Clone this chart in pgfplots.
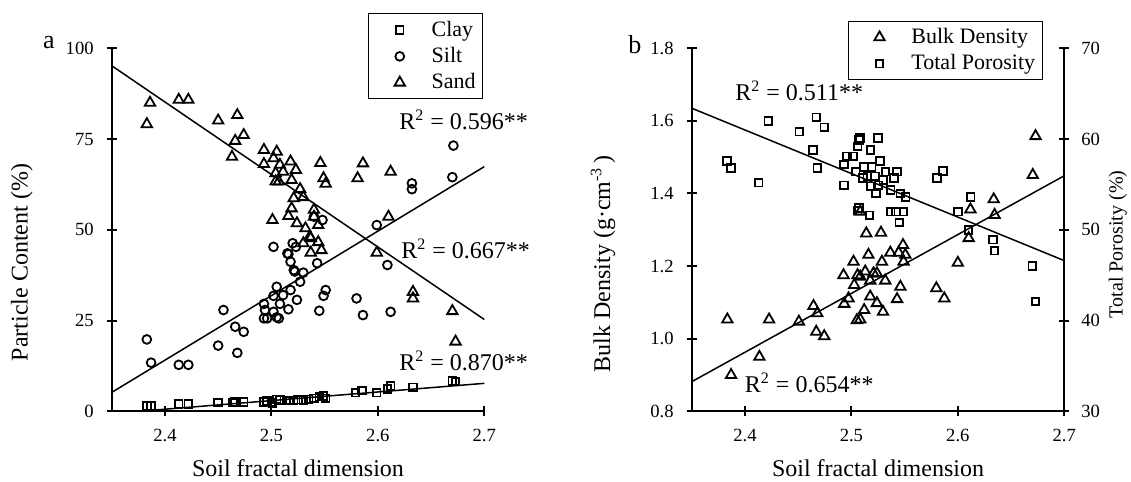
\documentclass[border=0pt]{standalone}
\usepackage{fontspec}
\setmainfont{Liberation Serif}
\usepackage{pgfplots}
\pgfplotsset{compat=1.18}

% 1 px of the reference = 0.5pt
\newcommand{\lf}{\fontsize{11}{13}\selectfont}
\pgfplotsset{
  soil/.style={
    scale only axis, width=186.3pt, height=181.5pt,
    xmin=2.35, xmax=2.7,
    xtick={2.4,2.5,2.6,2.7}, xticklabels={2.4,2.5,2.6,2.7},
    tick align=inside, major tick length=5pt,
    every tick/.style={black, line width=1pt},
    tick label style={font=\fontsize{9.3}{11}\selectfont},
    xticklabel style={yshift=-3pt},
    label style={font=\fontsize{12}{14}\selectfont},
    xlabel={Soil fractal dimension},
    xlabel style={at={(axis description cs:0.5,-0.156)}, anchor=center},
    clip=false,
    legend style={draw=black, line width=0.5pt, fill=white,
      font=\lf, cells={anchor=west}, nodes={inner xsep=1.5pt},
      inner xsep=2pt, inner ysep=1.5pt, row sep=0pt},
    legend image code/.code={\path (0pt,0pt) (27pt,0pt);
      \draw[mark repeat=2,mark phase=2,#1]
      plot coordinates {(0pt,0pt)(13pt,0pt)(26pt,0pt)};},
  },
  noarrows/.style={
    axis line style={-, line width=1pt},
    every outer x axis line/.append style={-},
    every outer y axis line/.append style={-},
    every inner x axis line/.append style={-},
    every inner y axis line/.append style={-},
  },
  pts/.style={only marks, black, line width=0.9pt},
  fit/.style={black, line width=0.75pt, no marks, forget plot},
}

\begin{document}
\begin{tikzpicture}
\path[use as bounding box] (0,0) rectangle (565.5pt,241pt);

% ---------------- panel a ----------------
\begin{axis}[soil,
  at={(55.85pt,35.35pt)}, anchor=south west,
  axis x line=bottom, axis y line=left, noarrows,
  ymin=0, ymax=100,
  ytick={0,25,50,75,100}, yticklabels={0,25,50,75,100},
  yticklabel style={xshift=-3pt},
  ylabel={Particle Content (\%)},
  ylabel style={at={(axis description cs:-0.241,0.41)}, anchor=center},
  legend style={at={(0.997,1.096)}, anchor=north east},
]
\addplot[pts, mark=square, mark size=1.9pt] coordinates {
(2.383,1.5) (2.387,1.5) (2.413,2.0) (2.422,2.0) (2.450,2.4) (2.464,2.4)
(2.466,2.6) (2.474,2.6) (2.493,2.6) (2.496,2.8) (2.500,2.4) (2.501,2.2)
(2.505,3.3) (2.508,3.1) (2.514,2.9) (2.517,3.0) (2.521,2.9) (2.525,3.2)
(2.530,3.1) (2.535,3.3) (2.540,3.6) (2.545,4.0) (2.549,4.2) (2.551,3.6)
(2.579,5.1) (2.585,5.7) (2.599,5.1) (2.609,6.1) (2.612,7.0) (2.633,6.6)
(2.670,8.4) (2.673,8.2)
};
\addlegendentry{\lf Clay}
\addplot[pts, mark=o, mark size=2.2pt] coordinates {
(2.383,19.8) (2.387,13.4) (2.413,12.8) (2.422,12.8) (2.450,18.1) (2.455,27.9)
(2.466,23.3) (2.474,21.9) (2.468,16.1) (2.493,29.6) (2.493,25.6) (2.494,27.9)
(2.496,25.6) (2.502,27.4) (2.505,34.3) (2.505,25.9) (2.507,25.6) (2.502,45.3)
(2.516,43.3) (2.523,45.3) (2.518,41.2) (2.522,38.5) (2.530,38.2) (2.543,40.8)
(2.527,35.7) (2.518,33.4) (2.511,32.0) (2.502,31.8) (2.524,30.7) (2.508,29.6)
(2.516,28.1) (2.551,33.4) (2.549,31.8) (2.545,27.7) (2.580,31.1) (2.586,26.5)
(2.612,27.4) (2.609,40.3) (2.671,73.2) (2.670,64.5) (2.632,62.8) (2.632,61.2)
(2.599,51.3) (2.540,53.6) (2.548,52.7) (2.520,46.3) (2.515,43.5) (2.521,38.9)
};
\addlegendentry{\lf Silt}
\addplot[pts, mark=triangle, mark size=3pt] coordinates {
(2.383,79.1) (2.386,85.0) (2.413,85.8) (2.422,85.8) (2.450,80.1) (2.468,81.6)
(2.466,74.5) (2.474,76.1) (2.463,70.1) (2.493,72.0) (2.505,71.5) (2.493,68.1)
(2.502,69.7) (2.504,65.6) (2.504,63.3) (2.501,52.7) (2.518,68.8) (2.508,67.9)
(2.523,66.5) (2.511,66.0) (2.507,63.3) (2.519,63.7) (2.546,68.4) (2.549,64.2)
(2.551,62.7) (2.586,68.3) (2.581,64.2) (2.612,66.0) (2.610,53.6) (2.527,61.2)
(2.521,58.7) (2.530,59.0) (2.519,55.9) (2.516,53.8) (2.524,51.8) (2.540,55.5)
(2.540,53.6) (2.532,50.4) (2.544,51.3) (2.537,47.7) (2.530,46.3) (2.536,48.1)
(2.537,43.7) (2.547,44.4) (2.544,46.6) (2.599,43.7) (2.633,32.9) (2.633,31.1)
(2.670,27.6) (2.673,19.2)
};
\addlegendentry{\lf Sand}
\addplot[fit] coordinates {(2.35,95.2) (2.7,25.3)};
\addplot[fit] coordinates {(2.35,5.2) (2.7,67.4)};
\addplot[fit] coordinates {(2.376,0) (2.7,7.7)};
\node[font=\fontsize{12}{14}\selectfont] at (axis cs:2.6805,80.2) {R\textsuperscript{2} = 0.596**};
\node[font=\fontsize{12}{14}\selectfont] at (axis cs:2.6824,44.7) {R\textsuperscript{2} = 0.667**};
\node[font=\fontsize{12}{14}\selectfont] at (axis cs:2.6805,13.9) {R\textsuperscript{2} = 0.870**};
\node[font=\fontsize{13}{15}\selectfont] at (axis cs:2.291,101.5) {a};
\end{axis}

% ---------------- panel b, bulk density ----------------
\begin{axis}[soil,
  at={(345.85pt,35.35pt)}, anchor=south west,
  axis x line=bottom, axis y line=left, noarrows,
  ymin=0.8, ymax=1.8,
  ytick={0.8,1.0,1.2,1.4,1.6,1.8}, yticklabels={0.8,1.0,1.2,1.4,1.6,1.8},
  yticklabel style={xshift=-3pt},
  ylabel={Bulk Density (g·cm\textsuperscript{-3}\,)},
  ylabel style={at={(axis description cs:-0.238,0.407)}, anchor=center},
]
\addplot[pts, mark=triangle, mark size=3pt] coordinates {
(2.3835,1.053) (2.387,0.900) (2.4136,0.950) (2.4227,1.053) (2.4507,1.047)
(2.4644,1.090) (2.468,1.070) (2.467,1.019) (2.4745,1.007) (2.4926,1.175)
(2.4933,1.096) (2.4973,1.111) (2.502,1.212) (2.5027,1.148) (2.5058,1.175)
(2.5052,1.051) (2.5083,1.350) (2.514,1.290) (2.5278,1.292) (2.516,1.231)
(2.5366,1.237) (2.5444,1.237) (2.5485,1.258) (2.5507,1.231) (2.549,1.212)
(2.5287,1.212) (2.513,1.185) (2.5208,1.180) (2.5083,1.171) (2.5177,1.160)
(2.5318,1.160) (2.524,1.180) (2.546,1.143) (2.5177,1.116) (2.524,1.098)
(2.5429,1.109) (2.512,1.079) (2.5297,1.074) (2.5083,1.053) (2.600,1.209)
(2.5798,1.139) (2.5873,1.111) (2.673,1.558) (2.6704,1.451) (2.6337,1.384)
(2.6345,1.341) (2.6118,1.356) (2.6102,1.277)
};
\addplot[fit] coordinates {(2.35,0.8815) (2.7,1.449)};
\node[font=\fontsize{12}{14}\selectfont] at (axis cs:2.451,1.682) {R\textsuperscript{2} = 0.511**};
\node[font=\fontsize{12}{14}\selectfont] at (axis cs:2.4604,0.878) {R\textsuperscript{2} = 0.654**};
\node[font=\fontsize{13}{15}\selectfont] at (axis cs:2.2967,1.809) {b};
\end{axis}

% ---------------- panel b, total porosity ----------------
\begin{axis}[soil,
  at={(345.85pt,35.35pt)}, anchor=south west,
  axis x line=none, axis y line=right, noarrows,
  xlabel={},
  ymin=30, ymax=70,
  ytick={30,40,50,60,70}, yticklabels={30,40,50,60,70},
  yticklabel style={xshift=2.5pt},
  ylabel={Total Porosity (\%)},
  ylabel style={at={(axis description cs:1.144,0.46)}, anchor=center},
  legend style={at={(0.942,1.076)}, anchor=north east},
]
\addlegendimage{pts, mark=triangle, mark size=3pt}
\addlegendentry{\lf Bulk Density}
\addplot[pts, mark=square, mark size=1.9pt] coordinates {
(2.383,57.6) (2.387,56.8) (2.413,55.2) (2.422,62.0) (2.451,60.8) (2.467,62.4)
(2.4745,61.3) (2.464,58.8) (2.468,56.8) (2.493,57.2) (2.493,54.9) (2.5015,58.1)
(2.496,58.1) (2.504,56.4) (2.507,59.9) (2.506,59.2) (2.506,52.1) (2.508,60.1)
(2.525,60.1) (2.518,58.8) (2.527,57.6) (2.512,56.9) (2.519,56.9) (2.515,55.9)
(2.522,55.9) (2.532,56.4) (2.543,56.4) (2.540,55.7) (2.511,55.7) (2.518,54.8)
(2.5255,54.9) (2.530,55.5) (2.537,54.4) (2.523,54.0) (2.546,54.0) (2.551,53.6)
(2.537,52.0) (2.542,52.0) (2.549,52.0) (2.545,50.8) (2.507,52.4) (2.517,51.6)
(2.5805,55.7) (2.586,56.5) (2.612,53.6) (2.600,52.0) (2.610,50.0) (2.633,48.9)
(2.6345,47.7) (2.670,46.0) (2.673,42.1)
};
\addlegendentry{\lf Total Porosity}
\addplot[fit] coordinates {(2.35,63.4) (2.7,46.6)};
\end{axis}
\end{tikzpicture}
\end{document}
